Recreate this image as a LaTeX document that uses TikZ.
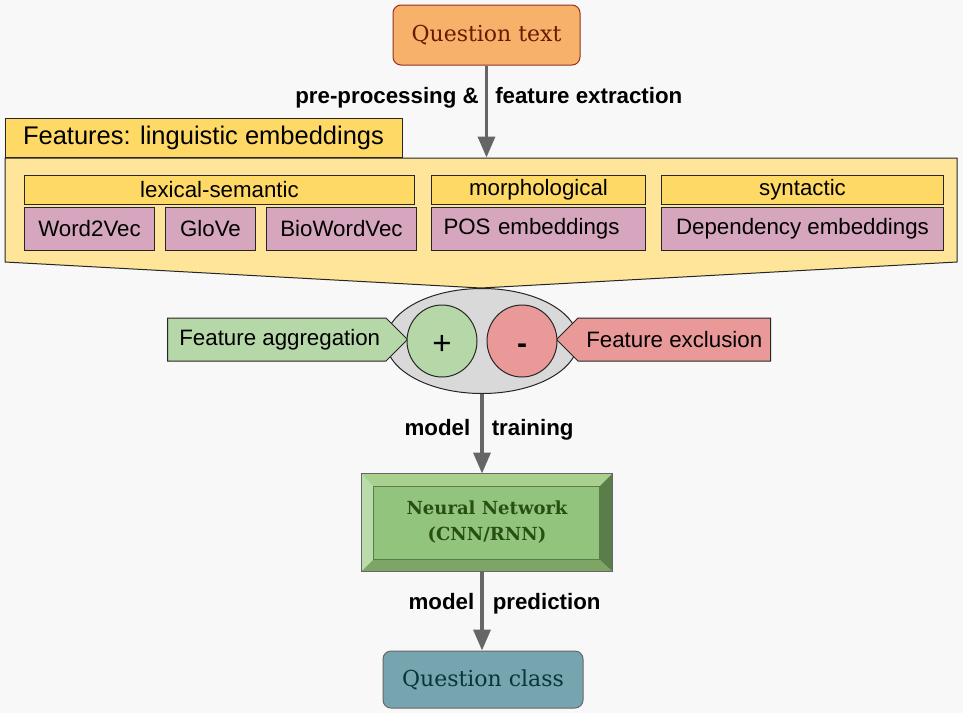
\documentclass[tikz,border=0pt]{standalone}
\usepackage{fontspec}
\setmainfont{DejaVu Serif}
\setsansfont{Liberation Sans}
\usepackage{xcolor}
\usepackage{tikz}
\usetikzlibrary{shapes,shapes.geometric,shapes.symbols,arrows.meta,calc,fit,positioning,backgrounds}

\definecolor{bgpaper}{HTML}{F8F8F8}
\definecolor{qorange}{HTML}{F6B26B}
\definecolor{qborder}{HTML}{99301A}
\definecolor{qtextcol}{HTML}{6B1A00}
\definecolor{featgold}{HTML}{FFD966}
\definecolor{featlight}{HTML}{FFE599}
\definecolor{embpurple}{HTML}{D5A6BD}
\definecolor{mergegray}{HTML}{D9D9D9}
\definecolor{aggreen}{HTML}{B6D7A8}
\definecolor{exred}{HTML}{EA9999}
\definecolor{nnface}{HTML}{93C47D}
\definecolor{nntop}{HTML}{A9D08E}
\definecolor{nnleft}{HTML}{B9DCAA}
\definecolor{nnright}{HTML}{5A7D4A}
\definecolor{nnbottom}{HTML}{7EA466}
\definecolor{nntext}{HTML}{274E13}
\definecolor{classteal}{HTML}{76A5AF}
\definecolor{classtext}{HTML}{0C343D}
\definecolor{arrowgray}{HTML}{666666}

\begin{document}
\begin{tikzpicture}[x=1pt, y=-1pt, >={Triangle[length=21pt,width=17pt]}]
\tikzset{block/.style = {draw=black!85, line width=1pt, inner sep=0pt,
  font=\sffamily\fontsize{22.3}{26}\selectfont}}
\tikzset{header/.style = {block, rectangle, fill=featgold, minimum height=29pt}}
\tikzset{emb/.style = {block, rectangle, fill=embpurple, minimum height=43pt}}
\tikzset{flow/.style = {->, draw=arrowgray, line width=3.5pt}}
\tikzset{steplabel/.style = {font=\sffamily\bfseries\fontsize{22.3}{26}\selectfont,
  inner sep=0pt, text height=16pt, text depth=5pt}}
\tikzset{serifbox/.style = {block, rectangle, rounded corners=8pt,
  font=\rmfamily\fontsize{22}{26}\selectfont}}

  \fill[bgpaper] (0,0) rectangle (963,713);

  \node[serifbox, fill=qorange, draw=qborder, text=qtextcol,
    minimum width=187, minimum height=60] (question) at (486.5,35)
    {Question text};

  \node[block, rectangle, fill=featgold, minimum width=397, minimum height=39,
    font=\sffamily\fontsize{25.5}{30}\selectfont] (features) at (203.5,137.5)
    {Features: linguistic embeddings};

  \draw[draw=black!85, line width=1pt, fill=featlight]
    (5,158) -- (957,158) -- (957,262) -- (481,288) -- (5,262) -- cycle;

  \node[header, minimum width=390, anchor=north west] (lexsem) at (24,175)
    {lexical-semantic};
  \node[header, minimum width=214, right=16pt of lexsem] (morph)
    {morphological};
  \node[header, minimum width=282, right=15pt of morph] (syntactic)
    {syntactic};

  \node[emb, minimum width=130, below=2pt of lexsem.south west,
    anchor=north west] (word2vec) {Word2Vec};
  \node[emb, minimum width=90, right=10pt of word2vec] (glove) {GloVe};
  \node[emb, minimum width=150, right=10pt of glove] (biowordvec)
    {BioWordVec};
  \node[emb, minimum width=214, text width=190pt, align=left,
    below=2pt of morph] (pos) {POS embeddings};
  \node[emb, minimum width=282, below=2pt of syntactic] (dependency)
    {Dependency embeddings};

  \node[ellipse, draw=black!85, line width=1pt, fill=mergegray,
    minimum width=192, minimum height=105, inner sep=0pt] (merge)
    at (482,341) {};

  \node[block, signal, signal to=east, signal pointer angle=90,
    fill=aggreen, minimum width=240, minimum height=43, anchor=west]
    (aggregation) at (167,339.5) {\hspace{6pt}Feature aggregation};
  \node[block, signal, signal to=west, signal pointer angle=90,
    fill=exred, minimum width=214, minimum height=43, anchor=east]
    (exclusion) at (771,339.5) {Feature exclusion\hspace{12pt}};

  \node[block, ellipse, fill=aggreen, minimum width=70, minimum height=72,
    font=\sffamily\fontsize{33}{40}\selectfont] (plus) at (442,341)
    {\raisebox{-13pt}[0pt][0pt]{+}};
  \node[block, ellipse, fill=exred, minimum width=70, minimum height=72,
    font=\sffamily\bfseries\fontsize{30}{40}\selectfont] (minus) at (522,341)
    {\raisebox{-12.5pt}[0pt][0pt]{-}};

  \node[block, rectangle, fill=nnface, draw=arrowgray, minimum width=250,
    minimum height=97] (network) at (487,522.5) {};
  \fill[nntop] (network.north west) -- (network.north east)
    -- ($(network.north east)+(-13,13)$) -- ($(network.north west)+(12,13)$)
    -- cycle;
  \fill[nnleft] (network.north west) -- ($(network.north west)+(12,13)$)
    -- ($(network.south west)+(12,-12)$) -- (network.south west) -- cycle;
  \fill[nnright] (network.north east) -- (network.south east)
    -- ($(network.south east)+(-13,-12)$) -- ($(network.north east)+(-13,13)$)
    -- cycle;
  \fill[nnbottom] (network.south west) -- ($(network.south west)+(12,-12)$)
    -- ($(network.south east)+(-13,-12)$) -- (network.south east) -- cycle;
  \draw[nnright, line width=.6pt] ($(network.north west)+(12,13)$)
    rectangle ($(network.south east)+(-13,-12)$);
  \draw[arrowgray, line width=1.2pt] (network.north west)
    rectangle (network.south east);
  \node[align=center, text=nntext, inner sep=0pt,
    font=\rmfamily\bfseries\fontsize{18}{26}\selectfont] (networktext)
    at (network.center) {Neural Network\\(CNN/RNN)};

  \node[serifbox, fill=classteal, draw=arrowgray, text=classtext,
    minimum width=200, minimum height=57] (qclass) at (483,679.5)
    {Question class};

  \draw[flow] (question.south) -- (question.south |- features.south)
    node[pos=.35, steplabel, anchor=east, xshift=-6pt] {pre-processing \&}
    node[pos=.35, steplabel, anchor=west, xshift=7pt] {feature extraction};
  \draw[flow] (merge.south) -- (merge.south |- network.north)
    node[pos=.45, steplabel, anchor=east, xshift=-10pt] {model}
    node[pos=.45, steplabel, anchor=west, xshift=8pt] {training};
  \draw[flow] (merge.south |- network.south) -- (merge.south |- qclass.north)
    node[pos=.41, steplabel, anchor=east, xshift=-6pt] {model}
    node[pos=.41, steplabel, anchor=west, xshift=9pt] {prediction};

\end{tikzpicture}
\end{document}
